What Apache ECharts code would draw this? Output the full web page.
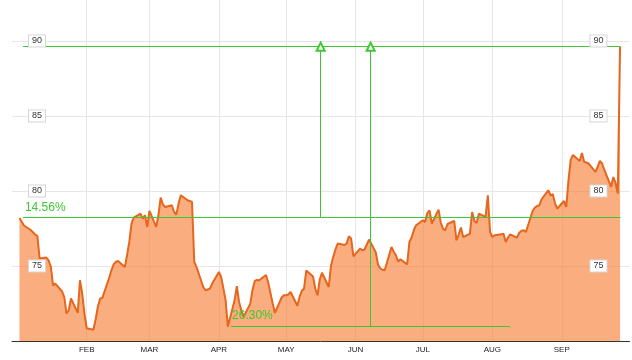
<!DOCTYPE html>
<html>
<head>
<meta charset="utf-8">
<script src="https://cdn.jsdelivr.net/npm/echarts@6/dist/echarts.min.js"></script>
<style>html,body{margin:0;padding:0;background:#fff}#c{width:632px;height:360px}</style>
</head>
<body>
<div id="c"></div>
<script>
// ---- data (2013 trading days) ----
const YEAR = 2013;
const monthLabels = ['JAN','FEB','MAR','APR','MAY','JUN','JUL','AUG','SEP','OCT','NOV','DEC'];
const yTicks = [75, 80, 85, 90];

const janValues = [78.2,77.95,77.7,77.4,77.25,77.1,77.0,75.5,75.56,75.38,74.95,73.7,73.83,73.3,72.93,71.83,72.05,72.83,71.87,74.05,73.16,71.83];
const febValues = [70.85,70.75,71.45,72.3,72.83,72.87,74.2,74.7,75.1,75.28,75.33,74.93,75.71,76.6,77.83,78.23,78.49,78.16,78.38,77.6];
const marValues = [78.67,77.6,78.38,79.56,79.11,78.93,79.05,78.6,78.43,79.16,79.71,79.38,79.33,79.27,75.27,74.93,73.6,73.38,73.43,73.5,73.83];
const aprValues = [74.6,74.27,73.5,72.71,70.96,72.71,73.65,72.6,72.05,71.6,72.49,73.4,74.0,74.07,74.05,74.4,73.9,73.2,72.5,71.87,72.9,73.05];
const mayValues = [73.05,73.1,73.27,72.35,72.95,73.35,73.5,74.7,74.3,73.5,73.05,74.1,74.55,73.6,75.0,75.6,76.1,76.5,76.4,76.49,76.98,76.83,75.65];
const junValues = [76.16,76.05,76.1,76.43,76.76,75.9,75.1,74.85,74.75,74.71,76.27,75.95,75.71,75.3,75.45,75.11,76.6,76.9,77.4,77.72];
const julValues = [78.05,77.93,78.53,78.71,77.83,78.76,77.9,77.49,77.38,77.8,78.0,76.71,77.1,77.56,76.93,77.16,78.6,78.0,77.87,78.49,78.27,79.71,77.27];
const augValues = [76.93,77.05,77.11,77.15,76.6,76.9,77.11,76.89,77.2,77.35,77.38,77.27,78.67,78.9,79.0,79.05,79.45,80.05,79.71,79.78,79.16,78.83];
const sepValues = [79.33,78.93,80.71,82.09,82.4,82.0,82.53,81.93,81.9,81.83,81.27,81.6,82.0,81.83,81.4,80.27,80.93,80.53,79.83,89.62];

// annotation levels and texts
const topLevel = 89.62;
const gainLevel = 78.23;
const lowLevel = 70.96;
const gainText = '14.56%';
const lowText = '26.30%';
// annotation dates [year, month(0-based), day, hour]
const lineStart = [YEAR,0,3,13];
const lineEnd = [YEAR,8,27,5];
const lowStart = [YEAR,3,6,10];
const lowEnd = [YEAR,7,8,22];
const arrow1Date = [YEAR,4,16,10];
const arrow2Date = [YEAR,5,7,17];
const axisMinDate = [YEAR-1,11,29,16];
const axisMaxDate = [YEAR,9,1,5];

// ---- build series from weekday trading days ----
const monthValues = [janValues,febValues,marValues,aprValues,mayValues,junValues,julValues,augValues,sepValues];
const seriesData = [];
monthValues.forEach((vals, m) => {
  let day = 1, i = 0;
  while (i < vals.length) {
    const d = new Date(YEAR, m, day);
    const wd = d.getDay();
    const holiday = (m === 0 && day === 1);
    if (wd !== 0 && wd !== 6 && !holiday) {
      seriesData.push([d.getTime(), vals[i]]);
      i++;
    }
    day++;
  }
});
const t = a => new Date(a[0], a[1], a[2], a[3] || 0).getTime();

const GREEN = '#3dc832';
const GRID = '#e6e6e6';
const NONE = 'rgba(0,0,0,0)';
const FONT = '"Liberation Sans", Arial, sans-serif';

const yBase = {
  type: 'value', min: 70, max: 92.73, interval: 5, gridIndex: 0,
  axisLine: {show: false}, axisTick: {show: false}
};
const labelBox = {
  inside: true, fontSize: 9, color: '#333', fontFamily: FONT,
  backgroundColor: '#fff', borderColor: '#d6d6d6', borderWidth: 1,
  padding: [1, 3, 1, 3], lineHeight: 9, verticalAlign: 'middle',
  showMinLabel: false, showMaxLabel: false,
  formatter: v => (yTicks.indexOf(v) >= 0 ? String(v) : '')
};

const chart = echarts.init(document.getElementById('c'), null, {renderer: 'canvas'});
chart.setOption({
  animation: false,
  grid: {left: 12, right: 0, top: 0, bottom: 19, containLabel: false},
  xAxis: {
    type: 'time',
    min: t(axisMinDate), max: t(axisMaxDate),
    splitNumber: 10,
    minInterval: 28 * 86400000, maxInterval: 31 * 86400000,
    axisLine: {show: true, lineStyle: {color: '#333', width: 1}},
    axisTick: {show: false},
    splitLine: {show: true, lineStyle: {color: [NONE, NONE, GRID, GRID, GRID, GRID, GRID, GRID, GRID, GRID, NONE, NONE], width: 1}},
    axisLabel: {
      fontSize: 8, color: '#222', fontFamily: FONT, margin: 5,
      showMinLabel: false, showMaxLabel: false,
      formatter: v => {
        const d = new Date(v);
        const m = d.getMonth();
        return (d.getDate() === 1 && d.getHours() === 0 && m >= 1 && m <= 8) ? monthLabels[m] : '';
      }
    }
  },
  yAxis: [
    Object.assign({}, yBase, {
      position: 'left', z: 0,
      axisLabel: {show: false},
      splitLine: {show: true, lineStyle: {color: [GRID, GRID, GRID, GRID, GRID, NONE], width: 1}}
    }),
    Object.assign({}, yBase, {
      position: 'left', z: 10,
      splitLine: {show: false},
      axisLabel: Object.assign({}, labelBox, {margin: 17})
    }),
    Object.assign({}, yBase, {
      position: 'right', z: 10,
      splitLine: {show: false},
      axisLabel: Object.assign({}, labelBox, {margin: 23})
    })
  ],
  series: [{
    type: 'line',
    yAxisIndex: 0,
    data: seriesData,
    showSymbol: false,
    symbol: 'none',
    smooth: false,
    lineStyle: {color: '#e5661c', width: 2},
    areaStyle: {color: 'rgb(248,130,60)', opacity: 0.65, origin: 'start'},
    markLine: {
      silent: true,
      symbol: ['none', 'none'],
      animation: false,
      lineStyle: {color: GREEN, width: 1, type: 'solid'},
      emphasis: {disabled: true},
      label: {show: false},
      data: [
        [{coord: [t(lineStart), topLevel]}, {coord: [t(lineEnd), topLevel]}],
        [{coord: [t(lineStart), gainLevel],
          label: {show: true, position: 'insideStartTop', formatter: gainText, color: GREEN, fontSize: 12, fontFamily: FONT, distance: [2, 4]}},
         {coord: [t(lineEnd), gainLevel]}],
        [{coord: [t(lowStart), lowLevel],
          label: {show: true, position: 'insideStartTop', formatter: lowText, color: GREEN, fontSize: 12, fontFamily: FONT, distance: [1, 5]}},
         {coord: [t(lowEnd), lowLevel]}],
        [{coord: [t(arrow1Date), gainLevel], symbol: 'none'},
         {coord: [t(arrow1Date), topLevel], symbol: 'emptyTriangle', symbolSize: [8, 8]}],
        [{coord: [t(arrow2Date), lowLevel], symbol: 'none'},
         {coord: [t(arrow2Date), topLevel], symbol: 'emptyTriangle', symbolSize: [8, 8]}]
      ]
    }
  }]
});
</script>
</body>
</html>
